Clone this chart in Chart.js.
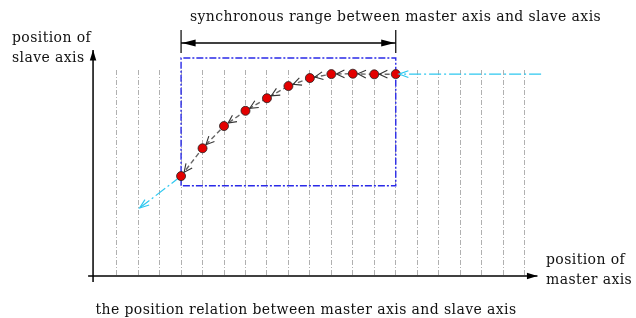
<!DOCTYPE html>
<html>
<head>
<meta charset="utf-8">
<script src="https://cdn.jsdelivr.net/npm/chart.js@4/dist/chart.umd.min.js"></script>
<style>
  html, body { margin: 0; padding: 0; background: #fff; }
  #wrap { width: 636px; height: 318px; position: relative; }
</style>
</head>
<body>
<div id="wrap"><canvas id="chart"></canvas></div>
<script>
// master axis position (grid units) and slave axis position of the cam points
var masterPos = [4, 5, 6, 7, 8, 9, 10, 11, 12, 13, 14];
var slavePos = [4.85, 6.2, 7.28, 8.02, 8.63, 9.22, 9.61, 9.8, 9.82, 9.79, 9.8];

// synchronous window
var rangeStart = 4, rangeEnd = 14;
var boxTop = 10.58, boxBottom = 4.38;

// cyan lead-in / lead-out
var leadIn = [[20.77, 9.8], [14.15, 9.8]];
var leadOut = [[4, 4.85], [2.07, 3.3]];

// dimension bar above the window
var dimY = 11.31, dimTickTop = 11.94, dimTickBottom = 10.83;

// axes
var axisX = [[-0.33, 0], [20.6, 0]];
var axisY = [[-0.1, -0.29], [-0.1, 10.97]];

var gridFirst = 1, gridLast = 20;

var titleText = 'synchronous range between master axis and slave axis';
var yLabel = ['position of', 'slave axis'];
var xLabel = ['position of', 'master axis'];
var caption = 'the position relation between master axis and slave axis';

function pts(arr) { return arr.map(function(p) { return {x: p[0], y: p[1]}; }); }

var curve = masterPos.map(function(m, i) { return {x: m, y: slavePos[i]}; });
var box = pts([[rangeStart, boxBottom], [rangeStart, boxTop], [rangeEnd, boxTop], [rangeEnd, boxBottom], [rangeStart, boxBottom]]);

function plain(data, color, width, dash) {
  return {
    data: data, borderColor: color, borderWidth: width, borderDash: dash || [],
    pointRadius: 0, fill: false, tension: 0, clip: false
  };
}

var serifFont = '"DejaVu Serif", serif';

function arrowHead(ctx, from, to, len, spread, filled, color, width) {
  var a = Math.atan2(to.y - from.y, to.x - from.x);
  ctx.save();
  ctx.strokeStyle = color; ctx.fillStyle = color; ctx.lineWidth = width || 1; ctx.setLineDash([]);
  ctx.beginPath();
  ctx.moveTo(to.x - len * Math.cos(a - spread), to.y - len * Math.sin(a - spread));
  ctx.lineTo(to.x, to.y);
  ctx.lineTo(to.x - len * Math.cos(a + spread), to.y - len * Math.sin(a + spread));
  if (filled) { ctx.closePath(); ctx.fill(); } else { ctx.stroke(); }
  ctx.restore();
}

var decor = {
  id: 'decor',
  afterDatasetsDraw: function(chart) {
    var ctx = chart.ctx, xs = chart.scales.x, ys = chart.scales.y;
    function px(x, y) { return {x: xs.getPixelForValue(x), y: ys.getPixelForValue(y)}; }

    // chevrons along the cam curve, pointing back toward each earlier point
    for (var i = 0; i < curve.length - 1; i++) {
      var p = px(curve[i].x, curve[i].y), q = px(curve[i + 1].x, curve[i + 1].y);
      var d = Math.hypot(q.x - p.x, q.y - p.y);
      var tip = {x: p.x + (q.x - p.x) * 5 / d, y: p.y + (q.y - p.y) * 5 / d};
      arrowHead(ctx, q, tip, 9, 0.45, false, '#333', 1.1);
    }
    // cyan heads
    var a = px(leadIn[0][0], leadIn[0][1]), b = px(leadIn[1][0], leadIn[1][1]);
    arrowHead(ctx, a, b, 10, 0.35, false, '#2ec8f0', 1.2);
    a = px(leadOut[0][0], leadOut[0][1]); b = px(leadOut[1][0], leadOut[1][1]);
    arrowHead(ctx, a, b, 10, 0.35, false, '#2ec8f0', 1.2);
    // dimension bar heads
    a = px(rangeStart, dimY); b = px(rangeEnd, dimY);
    arrowHead(ctx, b, {x: a.x + 1, y: a.y}, 14, 0.25, true, '#000');
    arrowHead(ctx, a, {x: b.x - 1, y: b.y}, 14, 0.25, true, '#000');
    // axis heads
    a = px(axisX[0][0], axisX[0][1]); b = px(axisX[1][0], axisX[1][1]);
    arrowHead(ctx, a, b, 11, 0.3, true, '#000');
    a = px(axisY[0][0], axisY[0][1]); b = px(axisY[1][0], axisY[1][1]);
    arrowHead(ctx, a, b, 11, 0.3, true, '#000');

    // texts
    ctx.save();
    ctx.fillStyle = '#111';
    ctx.font = '14px ' + serifFont;
    ctx.letterSpacing = '0.4px';
    ctx.textBaseline = 'middle';
    ctx.textAlign = 'center';
    ctx.fillText(titleText, 395.5, 17);
    ctx.fillText(caption, 306, 310);
    ctx.textAlign = 'left';
    ctx.fillText(yLabel[0], 12, 38);
    ctx.fillText(yLabel[1], 12, 58);
    ctx.fillText(xLabel[0], 546, 260);
    ctx.fillText(xLabel[1], 546, 280);
    ctx.restore();
  }
};

new Chart(document.getElementById('chart'), {
  type: 'line',
  data: {
    datasets: [
      Object.assign(plain(curve, '#666', 1.4, [5, 3]), {
        pointRadius: 4.5, pointBackgroundColor: '#e30000', pointBorderColor: '#222', pointBorderWidth: 0.8
      }),
      plain(box, '#2a2ae8', 1.4, [7, 2, 2, 2]),
      plain(pts(leadIn), '#2ec8f0', 1.2, [12, 3, 2, 3]),
      plain(pts(leadOut), '#2ec8f0', 1.2, [12, 3, 2, 3]),
      plain(pts([[rangeStart, dimY], [rangeEnd, dimY]]), '#000', 1.3),
      plain(pts([[rangeStart, dimTickBottom], [rangeStart, dimTickTop]]), '#000', 1.2),
      plain(pts([[rangeEnd, dimTickBottom], [rangeEnd, dimTickTop]]), '#000', 1.2),
      plain(pts(axisX), '#000', 1.5),
      plain(pts(axisY), '#000', 1.5)
    ]
  },
  options: {
    responsive: true,
    maintainAspectRatio: false,
    animation: false,
    events: [],
    layout: { autoPadding: false, padding: { top: 70, bottom: 42, left: 0, right: 0 } },
    plugins: { legend: { display: false }, tooltip: { enabled: false } },
    scales: {
      x: {
        type: 'linear', min: -4.434, max: 25.19,
        ticks: { display: false, stepSize: 1 },
        border: { display: false, dash: [5, 2, 1, 2] },
        grid: {
          drawTicks: false, lineWidth: 1,
          color: function(c) {
            var v = c.tick ? c.tick.value : NaN;
            return (Number.isInteger(v) && v >= gridFirst && v <= gridLast) ? '#b0b0b0' : 'rgba(0,0,0,0)';
          }
        }
      },
      y: {
        type: 'linear', min: 0, max: 10,
        ticks: { display: false },
        border: { display: false },
        grid: { display: false, drawTicks: false }
      }
    }
  },
  plugins: [decor]
});
</script>
</body>
</html>
